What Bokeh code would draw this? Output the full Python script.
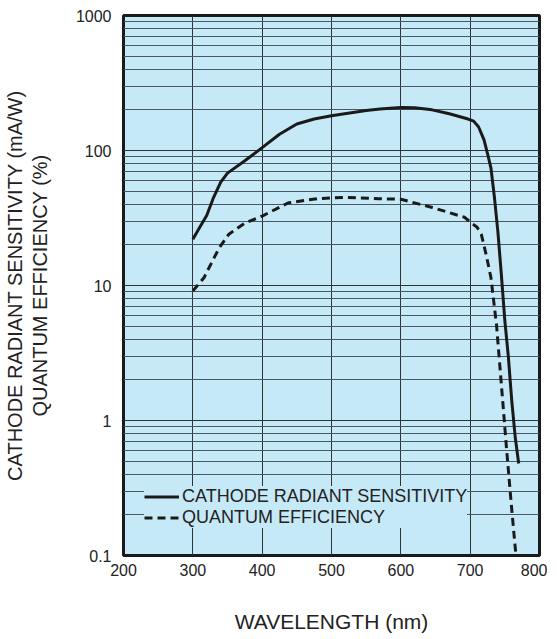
from bokeh.plotting import figure
from bokeh.models import FixedTicker, Legend, LegendItem
from bokeh.embed import file_html
from bokeh.resources import INLINE

# ---- data ----
sens_wl = [300, 310, 320, 330, 340, 350, 375, 400, 425, 450, 475, 500, 550, 570, 600,
           620, 645, 670, 697, 705, 712, 720, 725, 730, 735, 740, 745, 750, 755, 760, 765, 770]
sens_val = [22, 27, 33, 45, 58, 68, 84, 105, 132, 157, 171, 181, 198, 203, 208,
            207, 200, 187, 171, 165, 150, 120, 95, 74, 45, 25, 12, 5.5, 3.0, 1.4, 0.75, 0.48]

qe_wl = [300, 316, 338, 352, 375, 400, 438, 480, 520, 568, 600, 644, 692, 702,
         710, 716, 723, 730, 738, 745, 752, 759, 766]
qe_val = [9.1, 11.4, 19, 24, 29, 32.7, 41, 44, 45, 44, 43.5, 38, 32, 29,
          27, 24, 17, 11.4, 5.1, 1.85, 0.66, 0.25, 0.1]

x_ticks = [200, 300, 400, 500, 600, 700, 800]
y_ticks = [0.1, 1, 10, 100, 1000]
y_tick_labels = ["0.1", "1", "10", "100", "1000"]
y_minor = [m * d for d in [0.1, 1, 10, 100] for m in range(2, 10)]

series_labels = ["CATHODE RADIANT SENSITIVITY", "QUANTUM EFFICIENCY"]

FONT = "Liberation Sans"

p = figure(x_range=(200, 800), y_range=(0.1, 1000), y_axis_type="log",
           frame_width=416, frame_height=540,
           min_border_left=118, min_border_right=8, min_border_top=15, min_border_bottom=76,
           output_backend="svg", toolbar_location=None)

p.background_fill_color = "#c6e9f8"
p.border_fill_color = "white"
p.outline_line_color = "#1a1a1a"
p.outline_line_width = 3

p.xaxis.ticker = FixedTicker(ticks=x_ticks)
p.yaxis.ticker = FixedTicker(ticks=y_ticks, minor_ticks=y_minor)
p.yaxis.major_label_overrides = {t: s for t, s in zip(y_ticks, y_tick_labels)}

for ax in (p.xaxis, p.yaxis):
    ax.axis_line_color = None
    ax.major_tick_line_color = None
    ax.minor_tick_line_color = None
    ax.major_label_text_font = FONT
    ax.major_label_text_font_size = "16px"
    ax.major_label_text_color = "#222222"
    ax.axis_label_text_font = FONT
    ax.axis_label_text_font_style = "normal"
    ax.axis_label_text_color = "#222222"

p.xaxis.major_label_standoff = 2
p.yaxis.major_label_standoff = 6

p.xaxis.axis_label = "WAVELENGTH (nm)"
p.xaxis.axis_label_text_font_size = "21px"
p.xaxis.axis_label_standoff = 31

p.yaxis.axis_label = "CATHODE RADIANT SENSITIVITY (mA/W)\nQUANTUM EFFICIENCY (%)"
p.yaxis.axis_label_text_font_size = "20px"
p.yaxis.axis_label_text_line_height = 1.15
p.yaxis.axis_label_standoff = 22

p.xgrid.grid_line_color = "#2e3438"
p.xgrid.grid_line_width = 1
p.ygrid.grid_line_color = "#2e3438"
p.ygrid.grid_line_width = 1
p.ygrid.minor_grid_line_color = "#4a5660"
p.ygrid.minor_grid_line_width = 1

r1 = p.line(sens_wl, sens_val, line_color="#1a1a1a", line_width=3)
r2 = p.line(qe_wl, qe_val, line_color="#1a1a1a", line_width=3, line_dash="8 5")

legend = Legend(items=[LegendItem(label=series_labels[0], renderers=[r1]),
                       LegendItem(label=series_labels[1], renderers=[r2])],
                location=(21, 27))
legend.background_fill_color = "#c6e9f8"
legend.background_fill_alpha = 1.0
legend.border_line_color = None
legend.label_text_font = FONT
legend.label_text_font_size = "18px"
legend.label_text_color = "#222222"
legend.glyph_width = 35
legend.glyph_height = 21
legend.label_height = 21
legend.label_standoff = 3
legend.spacing = 0
legend.padding = 8
legend.margin = 0
p.add_layout(legend, "center")

open("out.html", "w").write(file_html(p, INLINE))
